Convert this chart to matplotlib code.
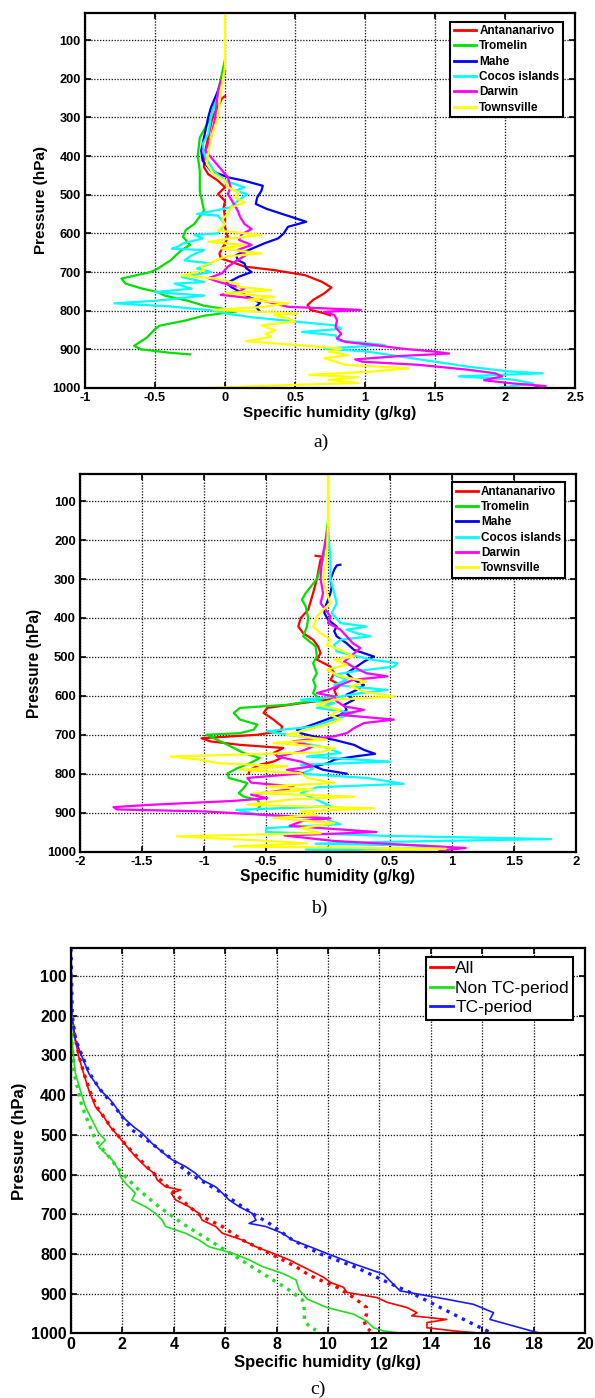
import matplotlib
matplotlib.use("Agg")
import matplotlib.pyplot as plt
from matplotlib.ticker import FuncFormatter

plt.rcParams['font.family'] = ['Liberation Sans', 'DejaVu Sans']
plt.rcParams['font.weight'] = 'bold'

# ---------------- Panel a data ----------------
stations = ["Antananarivo", "Tromelin", "Mahe", "Cocos islands", "Darwin", "Townsville"]
station_colors = ["#ff0000", "#00e000", "#0000ff", "#00ffff", "#ff00ff", "#ffff00"]

a_red_p = [245, 250, 300, 352, 400, 429, 447, 464, 481, 498, 516, 533, 559, 584, 610, 626, 652, 665, 673, 686, 695, 708, 725, 740, 755, 772, 785, 798, 807, 812]
a_red_q = [0.0, -0.02, -0.09, -0.12, -0.15, -0.15, -0.12, -0.05, 0.0, -0.05, 0.0, -0.01, 0.0, 0.0, 0.02, 0.0, -0.04, -0.03, 0.04, 0.14, 0.35, 0.57, 0.69, 0.76, 0.71, 0.63, 0.59, 0.61, 0.71, 0.75]

a_green_p = [150, 200, 231, 300, 352, 400, 438, 490, 541, 576, 591, 609, 630, 643, 670, 691, 700, 717, 730, 743, 752, 761, 774, 787, 796, 802, 813, 826, 839, 848, 870, 891, 900, 909, 913]
a_green_q = [0.0, -0.03, -0.05, -0.10, -0.18, -0.195, -0.18, -0.18, -0.15, -0.22, -0.28, -0.30, -0.25, -0.31, -0.39, -0.48, -0.53, -0.74, -0.71, -0.59, -0.48, -0.43, -0.27, -0.15, 0.0, 0.08, -0.15, -0.29, -0.47, -0.50, -0.56, -0.65, -0.60, -0.39, -0.25]

a_blue_p = [200, 231, 274, 300, 352, 386, 412, 438, 455, 464, 477, 490, 507, 524, 537, 557, 570, 583, 600, 613, 626, 643, 656, 669, 678, 690, 700, 712, 729, 740, 760, 780, 790, 802]
a_blue_q = [-0.02, -0.05, -0.10, -0.12, -0.15, -0.17, -0.16, -0.10, 0.02, 0.14, 0.27, 0.26, 0.23, 0.22, 0.30, 0.47, 0.58, 0.45, 0.42, 0.38, 0.28, 0.17, 0.08, 0.09, 0.14, 0.15, 0.19, 0.10, 0.01, 0.05, 0.15, 0.25, 0.22, 0.25]

a_cyan_p = [180, 231, 300, 343, 369, 403, 438, 464, 481, 490, 498, 516, 533, 550, 554, 576, 600, 604, 613, 626, 635, 640, 643, 657, 670, 678, 691, 700, 713, 726, 730, 743, 752, 761, 774, 781, 789, 800, 809, 817, 830, 838, 847, 855, 864, 877, 889, 898, 906, 919, 932, 945, 957, 962, 970, 978, 988, 1000]
a_cyan_q = [0.0, -0.04, -0.10, -0.12, -0.16, -0.14, -0.08, 0.0, 0.14, 0.07, 0.16, 0.09, 0.04, -0.20, -0.05, 0.0, -0.05, -0.22, -0.16, -0.30, -0.34, -0.38, -0.15, -0.24, -0.29, -0.10, -0.20, -0.10, -0.31, -0.15, -0.36, -0.24, -0.50, -0.15, -0.48, -0.79, -0.39, -0.08, 0.04, 0.19, 0.55, 0.79, 0.83, 0.55, 0.79, 0.81, 1.14, 0.71, 1.02, 1.26, 1.50, 1.74, 2.02, 2.27, 1.67, 2.05, 2.2, 1.95]

a_mag_p = [180, 231, 300, 352, 386, 412, 429, 455, 481, 498, 516, 541, 559, 576, 589, 602, 617, 630, 643, 656, 669, 686, 703, 716, 725, 734, 742, 751, 759, 768, 777, 790, 798, 803, 811, 824, 843, 860, 872, 881, 889, 898, 906, 911, 917, 926, 932, 940, 946, 953, 962, 970, 980, 988, 995, 1000]
a_mag_q = [0.0, -0.05, -0.07, -0.10, -0.14, -0.08, -0.04, 0.02, 0.04, 0.02, 0.05, 0.09, 0.11, 0.14, 0.19, 0.12, 0.10, 0.19, 0.09, 0.15, 0.09, 0.02, -0.02, -0.12, -0.05, 0.04, 0.14, 0.10, -0.03, 0.19, 0.30, 0.45, 0.97, 0.71, 0.78, 0.80, 0.79, 0.83, 0.80, 0.86, 1.07, 1.26, 1.50, 1.60, 1.26, 0.93, 0.98, 1.38, 1.55, 1.74, 1.93, 1.98, 1.85, 2.05, 2.29, 2.2]

a_yel_p = [30, 170, 231, 300, 352, 395, 421, 447, 464, 481, 494, 507, 520, 533, 550, 563, 576, 593, 604, 613, 622, 630, 639, 652, 660, 673, 686, 696, 709, 717, 730, 738, 747, 755, 764, 772, 781, 790, 798, 807, 811, 820, 828, 838, 851, 860, 868, 879, 889, 898, 906, 915, 923, 932, 940, 949, 957, 966, 972, 979, 987, 994, 1000]
a_yel_q = [0.0, 0.0, -0.03, -0.05, -0.10, -0.12, -0.13, -0.08, 0.0, 0.02, 0.10, 0.07, 0.14, 0.04, 0.02, -0.02, 0.0, -0.05, 0.26, 0.04, -0.12, 0.14, -0.03, 0.26, 0.0, -0.08, -0.17, -0.15, -0.31, -0.07, 0.09, 0.09, 0.33, 0.0, 0.35, 0.16, 0.45, 0.28, -0.08, 0.52, 0.35, 0.45, 0.50, 0.26, 0.36, 0.29, 0.33, 0.15, 0.52, 0.83, 0.74, 0.88, 0.71, 0.79, 0.86, 1.31, 1.07, 0.6, 0.95, 0.74, 0.95, 0.31, -0.12]

# ---------------- Panel b data ----------------
b_red_p = [240, 243, 250, 300, 336, 379, 400, 422, 439, 456, 473, 490, 507, 525, 542, 559, 572, 585, 600, 610, 619, 631, 644, 661, 679, 691, 700, 709, 717, 726, 734, 747, 760, 769, 777, 790, 800]
b_red_q = [-0.1, -0.04, -0.06, -0.09, -0.12, -0.16, -0.22, -0.24, -0.20, -0.12, -0.08, -0.06, -0.09, 0.02, 0.05, 0.02, 0.10, 0.05, 0.07, 0.0, -0.22, -0.49, -0.52, -0.44, -0.37, -0.38, -0.57, -1.02, -0.95, -0.71, -0.36, -0.44, -0.38, -0.44, -0.55, -0.63, -0.64]

b_green_p = [150, 250, 300, 336, 353, 370, 400, 422, 447, 473, 499, 516, 542, 559, 576, 593, 610, 623, 631, 644, 661, 674, 687, 696, 700, 709, 721, 734, 747, 760, 773, 786, 799, 811, 824, 837, 850, 859, 867, 880, 893]
b_green_q = [0.0, -0.04, -0.09, -0.18, -0.21, -0.18, -0.16, -0.17, -0.20, -0.10, -0.09, -0.12, -0.09, -0.12, -0.10, -0.12, -0.06, -0.33, -0.71, -0.76, -0.71, -0.57, -0.60, -0.71, -0.98, -0.92, -0.84, -0.76, -0.68, -0.55, -0.63, -0.73, -0.81, -0.80, -0.65, -0.68, -0.72, -0.68, -0.57, -0.54, -0.57]

b_blue_p = [263, 265, 276, 300, 319, 336, 353, 370, 387, 404, 422, 434, 447, 465, 482, 499, 512, 525, 542, 559, 572, 585, 597, 610, 623, 636, 649, 657, 670, 679, 687, 696, 704, 713, 726, 739, 749, 756, 764, 773, 781, 790, 800]
b_blue_q = [0.10, 0.07, 0.05, 0.02, 0.03, 0.02, 0.0, -0.02, -0.03, 0.0, 0.07, 0.05, 0.07, 0.15, 0.21, 0.37, 0.29, 0.23, 0.15, 0.21, 0.29, 0.23, 0.15, 0.21, 0.13, 0.15, 0.10, 0.02, -0.09, -0.17, -0.25, -0.22, -0.12, 0.05, 0.21, 0.29, 0.38, 0.21, 0.05, 0.0, -0.11, -0.04, 0.15]

b_cyan_p = [170, 250, 300, 336, 362, 387, 413, 422, 430, 439, 447, 456, 469, 486, 507, 516, 525, 537, 546, 559, 572, 585, 593, 602, 610, 619, 631, 644, 661, 679, 691, 700, 709, 721, 734, 747, 756, 769, 777, 786, 790, 800, 811, 826, 835, 850, 867, 884, 893, 906, 914, 920, 930, 940, 950, 960, 968, 975, 980, 985, 990, 995, 1000]
b_cyan_q = [0.0, 0.02, 0.02, 0.05, 0.07, 0.03, 0.10, 0.31, 0.15, 0.23, 0.34, 0.10, 0.05, 0.07, 0.35, 0.56, 0.53, 0.21, 0.05, 0.15, 0.05, 0.48, 0.26, 0.10, -0.22, 0.05, -0.09, 0.21, 0.05, -0.12, -0.49, -0.33, -0.12, -0.22, 0.0, 0.10, -0.17, 0.50, -0.22, -0.12, -0.14, -0.22, 0.31, 0.61, -0.09, -0.22, -0.09, 0.02, -0.74, -0.55, 0.0, 0.0, 0.10, -0.5, -0.5, 0.5, 1.8, 0.5, -0.1, 0.8, 1.0, -0.18, 0.3]

b_mag_p = [170, 250, 300, 336, 362, 379, 396, 413, 430, 447, 465, 477, 499, 512, 525, 542, 550, 559, 572, 585, 593, 602, 614, 627, 636, 649, 661, 670, 683, 696, 704, 717, 730, 743, 756, 769, 781, 790, 799, 811, 823, 833, 841, 854, 863, 870, 880, 886, 892, 897, 906, 915, 921, 934, 950, 959, 973, 991, 998]
b_mag_q = [0.0, -0.05, -0.06, -0.04, -0.06, -0.02, 0.02, 0.0, 0.10, 0.15, 0.20, 0.26, 0.18, 0.13, 0.20, 0.31, 0.48, 0.20, 0.10, 0.0, -0.09, 0.05, 0.07, 0.13, 0.29, 0.10, 0.53, 0.29, 0.21, 0.15, 0.05, -0.28, -0.12, -0.22, -0.41, -0.22, -0.12, -0.33, -0.20, -0.65, -0.62, -0.28, -0.33, -0.62, -0.49, -0.76, -1.43, -1.73, -1.70, -1.0, -0.5, 0.02, -0.2, -0.31, 0.39, -0.35, 0.05, 1.11, 0.9]

b_yel_p = [30, 150, 250, 300, 336, 362, 379, 396, 422, 439, 456, 469, 482, 499, 507, 520, 533, 550, 563, 576, 589, 602, 610, 623, 636, 649, 661, 674, 687, 700, 713, 721, 734, 745, 756, 764, 773, 781, 790, 799, 811, 824, 833, 841, 850, 859, 867, 880, 889, 897, 906, 914, 927, 940, 953, 961, 970, 979, 987, 993, 1000]
b_yel_q = [0.0, 0.0, -0.01, -0.04, -0.01, 0.02, -0.04, -0.09, -0.12, -0.06, 0.02, -0.01, 0.10, 0.21, 0.05, 0.15, -0.01, 0.10, 0.31, 0.18, 0.29, 0.53, 0.05, -0.09, 0.10, 0.02, 0.10, -0.01, -0.17, -0.33, -0.01, -0.44, 0.05, -0.06, -1.27, -1.03, -0.89, -0.33, -0.71, -0.22, -0.17, 0.05, -0.49, -0.12, -0.60, 0.21, -0.33, -0.65, 0.37, -0.22, -0.09, -0.44, 0.05, -0.22, -0.06, -1.22, -0.65, -0.17, -0.76, 0.95, 0.3]

# ---------------- Panel c data ----------------
c_labels = ["All", "Non TC-period", "TC-period"]
c_colors = ["#ff0000", "#22dd22", "#1a1aff"]

c_red_p = [200, 230, 261, 303, 345, 387, 429, 454, 480, 505, 530, 555, 580, 597, 614, 631, 639, 647, 664, 681, 698, 715, 731, 748, 765, 782, 798, 815, 832, 849, 859, 872, 884, 897, 910, 922, 935, 948, 956, 965, 973, 986, 994, 1000]
c_red_q = [0.0, 0.08, 0.17, 0.30, 0.49, 0.69, 0.95, 1.27, 1.53, 1.86, 2.18, 2.51, 2.9, 3.23, 3.36, 3.68, 4.27, 3.9, 4.07, 4.59, 4.98, 5.1, 5.63, 5.89, 6.67, 7.19, 7.84, 8.49, 9.01, 9.53, 9.83, 10.1, 10.6, 10.74, 11.9, 12.3, 13.07, 13.46, 13.26, 14.62, 13.85, 13.85, 14.9, 15.98]
c_red_dot_p = [200, 261, 303, 345, 387, 429, 480, 530, 580, 630, 681, 706, 731, 765, 798, 832, 855, 884, 910, 935, 952, 969, 986, 994]
c_red_dot_q = [0.0, 0.18, 0.32, 0.5, 0.72, 1.0, 1.55, 2.2, 2.95, 3.75, 4.6, 5.1, 5.89, 6.67, 7.71, 8.75, 9.3, 10.35, 11.0, 11.5, 11.5, 11.4, 11.5, 11.65]

c_green_p = [200, 261, 303, 345, 387, 429, 463, 496, 513, 530, 547, 563, 589, 606, 622, 647, 664, 681, 698, 715, 731, 748, 765, 782, 798, 815, 832, 849, 865, 891, 914, 935, 952, 969, 986, 994, 1000]
c_green_q = [0.0, 0.04, 0.10, 0.17, 0.36, 0.56, 0.82, 1.08, 1.34, 1.08, 1.34, 1.6, 1.86, 1.93, 2.12, 2.5, 2.37, 2.9, 3.29, 3.55, 3.68, 4.46, 4.98, 5.37, 6.28, 6.93, 7.45, 8.23, 8.75, 8.88, 9.2, 9.96, 11.0, 11.5, 11.77, 12.16, 12.8]
c_green_dot_p = [200, 261, 303, 345, 429, 513, 555, 597, 639, 681, 723, 765, 807, 849, 891, 916, 941, 967, 983, 992]
c_green_dot_q = [0.0, 0.03, 0.08, 0.12, 0.43, 0.95, 1.47, 1.99, 2.64, 3.42, 4.33, 5.37, 6.41, 7.45, 8.49, 9.01, 9.08, 9.08, 9.27, 9.53]

c_blue_p = [30, 100, 200, 261, 303, 345, 387, 412, 429, 454, 480, 496, 522, 547, 563, 580, 597, 614, 631, 647, 664, 681, 698, 715, 723, 731, 748, 765, 782, 800, 825, 851, 867, 893, 914, 927, 948, 965, 986, 1000]
c_blue_q = [0.0, 0.02, 0.04, 0.17, 0.43, 0.69, 1.14, 1.53, 1.73, 1.99, 2.44, 2.77, 3.16, 3.62, 3.94, 4.46, 4.85, 5.11, 5.63, 5.89, 6.15, 6.54, 7.06, 7.2, 6.93, 7.58, 8.23, 8.62, 9.3, 10.0, 11.0, 12.16, 12.4, 12.8, 14.6, 15.66, 16.44, 16.3, 17.47, 18.25]
c_blue_dot_p = [30, 100, 200, 261, 303, 345, 387, 429, 488, 513, 555, 597, 647, 698, 723, 765, 800, 834, 867, 901, 935, 969, 994, 1000]
c_blue_dot_q = [0.0, 0.02, 0.05, 0.18, 0.45, 0.72, 1.15, 1.7, 2.38, 2.96, 3.81, 4.59, 5.89, 7.06, 7.71, 8.62, 9.7, 11.1, 12.16, 13.33, 14.37, 15.4, 16.2, 16.24]

pressure_ticks = [100, 200, 300, 400, 500, 600, 700, 800, 900, 1000]
a_xticks = [-1, -0.5, 0, 0.5, 1, 1.5, 2, 2.5]
b_xticks = [-2, -1.5, -1, -0.5, 0, 0.5, 1, 1.5, 2]
c_xticks = [0, 2, 4, 6, 8, 10, 12, 14, 16, 18, 20]

W, H = 595, 1398
fig = plt.figure(figsize=(W / 100, H / 100), dpi=100)


def add_ax(left, top, right, bottom):
    return fig.add_axes([left / W, 1 - bottom / H, (right - left) / W, (bottom - top) / H])


def style(ax, xticks, tsize):
    ax.set_ylim(1000, 30)
    ax.set_xlim(xticks[0], xticks[-1])
    ax.set_xticks(xticks)
    ax.set_yticks(pressure_ticks)
    ax.xaxis.set_major_formatter(FuncFormatter(lambda v, p: "%g" % v))
    ax.grid(True, color="0.1", linestyle=(0, (1, 1.2)), linewidth=0.95)
    ax.tick_params(direction="in", top=True, right=True, length=4, width=1.2,
                   labelsize=tsize, pad=3)
    for lab in ax.get_xticklabels() + ax.get_yticklabels():
        lab.set_fontweight("bold")
    for s in ax.spines.values():
        s.set_linewidth(1.6)
    ax.set_axisbelow(True)


ax_a = add_ax(85, 13, 575, 388)
ax_b = add_ax(80, 474, 576, 851.5)
ax_c = add_ax(71, 948.3, 585, 1333.3)

a_sets = [(a_red_p, a_red_q), (a_green_p, a_green_q), (a_blue_p, a_blue_q),
          (a_cyan_p, a_cyan_q), (a_mag_p, a_mag_q), (a_yel_p, a_yel_q)]
for (p, q), name, col in zip(a_sets, stations, station_colors):
    ax_a.plot(q, p, color=col, lw=1.6, label=name)
style(ax_a, a_xticks, 9.2)

b_sets = [(b_red_p, b_red_q), (b_green_p, b_green_q), (b_blue_p, b_blue_q),
          (b_cyan_p, b_cyan_q), (b_mag_p, b_mag_q), (b_yel_p, b_yel_q)]
for (p, q), name, col in zip(b_sets, stations, station_colors):
    ax_b.plot(q, p, color=col, lw=1.6, label=name)
style(ax_b, b_xticks, 9.4)

c_solid = [(c_red_p, c_red_q), (c_green_p, c_green_q), (c_blue_p, c_blue_q)]
c_dot = [(c_red_dot_p, c_red_dot_q), (c_green_dot_p, c_green_dot_q), (c_blue_dot_p, c_blue_dot_q)]
for (p, q), name, col in zip(c_solid, c_labels, c_colors):
    ax_c.plot(q, p, color=col, lw=1.2, label=name)
for (p, q), col in zip(c_dot, c_colors):
    ax_c.plot(q, p, color=col, lw=2.4, linestyle=(0, (1, 1.6)))
style(ax_c, c_xticks, 11.5)

leg_kw = dict(loc="upper right", fancybox=False, framealpha=1, edgecolor="black",
              borderaxespad=0)
la = ax_a.legend(bbox_to_anchor=(0.9755, 0.977), prop={"size": 8.5, "weight": "bold"},
                 handlelength=1.9, handletextpad=0.25, labelspacing=0.28, borderpad=0.3, **leg_kw)
lb = ax_b.legend(bbox_to_anchor=(0.977, 0.978), prop={"size": 8.5, "weight": "bold"},
                 handlelength=1.9, handletextpad=0.25, labelspacing=0.28, borderpad=0.3, **leg_kw)
lc = ax_c.legend(bbox_to_anchor=(0.977, 0.978), prop={"size": 12.5, "weight": "normal"},
                 handlelength=1.3, handletextpad=0.15, labelspacing=0.25, borderpad=0.25, **leg_kw)
for lg in (la, lb, lc):
    lg.get_frame().set_linewidth(1.5)
    for ln in lg.get_lines():
        ln.set_linewidth(2.0)

# axis labels
xlabel = "Specific humidity (g/kg)"
ylabel = "Pressure (hPa)"
fig.text(330 / W, 1 - 413 / H, xlabel, ha="center", va="center", fontsize=11, fontweight="bold")
fig.text(328 / W, 1 - 877 / H, xlabel, ha="center", va="center", fontsize=11.2, fontweight="bold")
fig.text(328 / W, 1 - 1362 / H, xlabel, ha="center", va="center", fontsize=12, fontweight="bold")
fig.text(41 / W, 1 - 200.5 / H, ylabel, ha="center", va="center", rotation=90, fontsize=11, fontweight="bold")
fig.text(34 / W, 1 - 663 / H, ylabel, ha="center", va="center", rotation=90, fontsize=11.2, fontweight="bold")
fig.text(20 / W, 1 - 1141 / H, ylabel, ha="center", va="center", rotation=90, fontsize=12, fontweight="bold")

# panel letters
for txt, x, y in [("a)", 321, 442), ("b)", 319, 908), ("c)", 318, 1389)]:
    fig.text(x / W, 1 - y / H, txt, ha="center", va="center", fontsize=14,
             family=["Liberation Serif", "DejaVu Serif"], fontweight="normal")

fig.savefig("out.png", dpi=100)
